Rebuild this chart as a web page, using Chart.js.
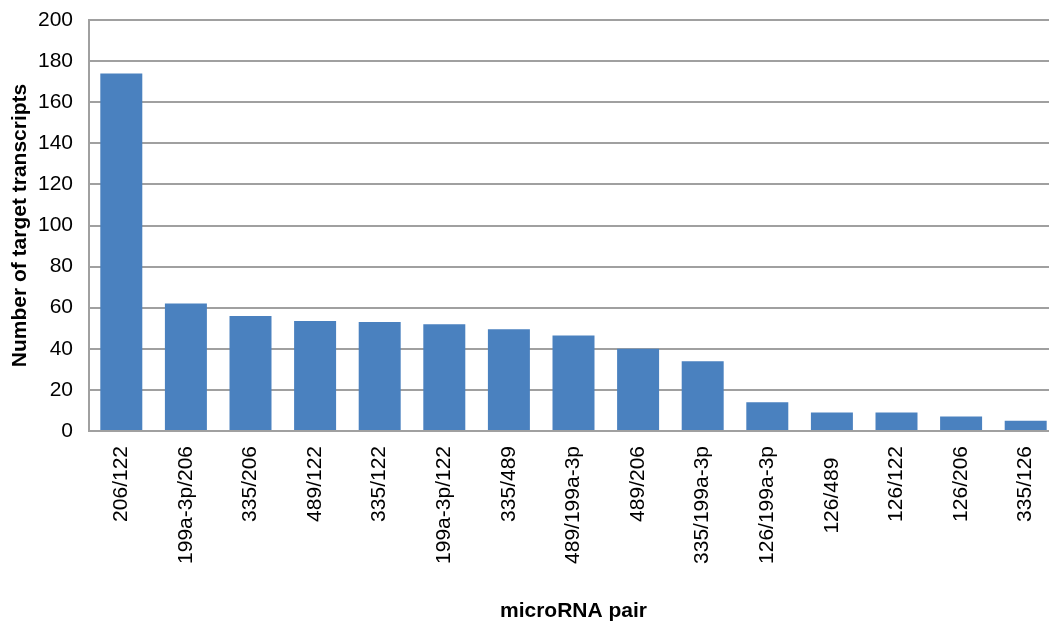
<!DOCTYPE html>
<html>
<head>
<meta charset="utf-8">
<script src="https://cdn.jsdelivr.net/npm/chart.js@4/dist/chart.umd.min.js"></script>
<style>
  html, body { margin: 0; padding: 0; background: #fff; overflow: hidden; }
  #wrap { width: 1049px; height: 626px; overflow: hidden; position: relative; }
  #box { width: 1058px; height: 626px; position: absolute; left: 0; top: 0; }
</style>
</head>
<body>
<div id="wrap"><div id="box"><canvas id="c"></canvas></div></div>
<script>
// microRNA pairs and the number of shared target transcripts
const pairs = ['206/122', '199a-3p/206', '335/206', '489/122', '335/122', '199a-3p/122',
  '335/489', '489/199a-3p', '489/206', '335/199a-3p', '126/199a-3p', '126/489\u00a0\u00a0',
  '126/122', '126/206', '335/126'];
const targetCounts = [174, 62, 56, 53.5, 53, 52, 49.5, 46.5, 40, 34, 14, 9, 9, 7, 5];
const yTicks = [0, 20, 40, 60, 80, 100, 120, 140, 160, 180, 200];

const font = 'Liberation Sans, Arial, Helvetica, sans-serif';

new Chart(document.getElementById('c'), {
  type: 'bar',
  data: {
    labels: pairs,
    datasets: [{
      data: targetCounts,
      backgroundColor: '#4a81bf',
      borderWidth: 0,
      barPercentage: 0.65,
      categoryPercentage: 1.0
    }]
  },
  options: {
    responsive: true,
    maintainAspectRatio: false,
    animation: false,
    layout: { padding: { top: 0, left: 0, right: 0, bottom: 2 } },
    plugins: { legend: { display: false }, tooltip: { enabled: false } },
    scales: {
      x: {
        grid: { display: false, drawTicks: false },
        border: { color: '#a0a0a0', width: 2 },
        ticks: {
          color: '#000',
          font: { family: font, size: 21 },
          minRotation: 90,
          maxRotation: 90,
          autoSkip: false,
          padding: 15
        },
        title: {
          display: true,
          text: 'microRNA pair',
          color: '#000',
          font: { family: font, size: 21, weight: 'bold' },
          padding: { top: 20, bottom: 0 }
        },
        afterFit: axis => {
          axis.height = 193;
          axis.paddingLeft = 0;
          axis.paddingRight = 0;
        }
      },
      y: {
        min: 0,
        max: 200,
        afterBuildTicks: axis => { axis.ticks = yTicks.map(v => ({ value: v })); },
        grid: { color: '#a0a0a0', lineWidth: 2, drawTicks: false },
        border: { color: '#a0a0a0', width: 2 },
        ticks: {
          color: '#000',
          font: { family: font, size: 21 },
          padding: 16
        },
        title: {
          display: true,
          text: 'Number of target transcripts',
          color: '#000',
          font: { family: font, size: 21, weight: 'bold' },
          padding: { top: 8, bottom: 4 }
        },
        afterFit: axis => {
          axis.width = 89;
          axis.paddingTop = 20;
          axis.paddingBottom = 0;
        }
      }
    }
  }
});
</script>
</body>
</html>
